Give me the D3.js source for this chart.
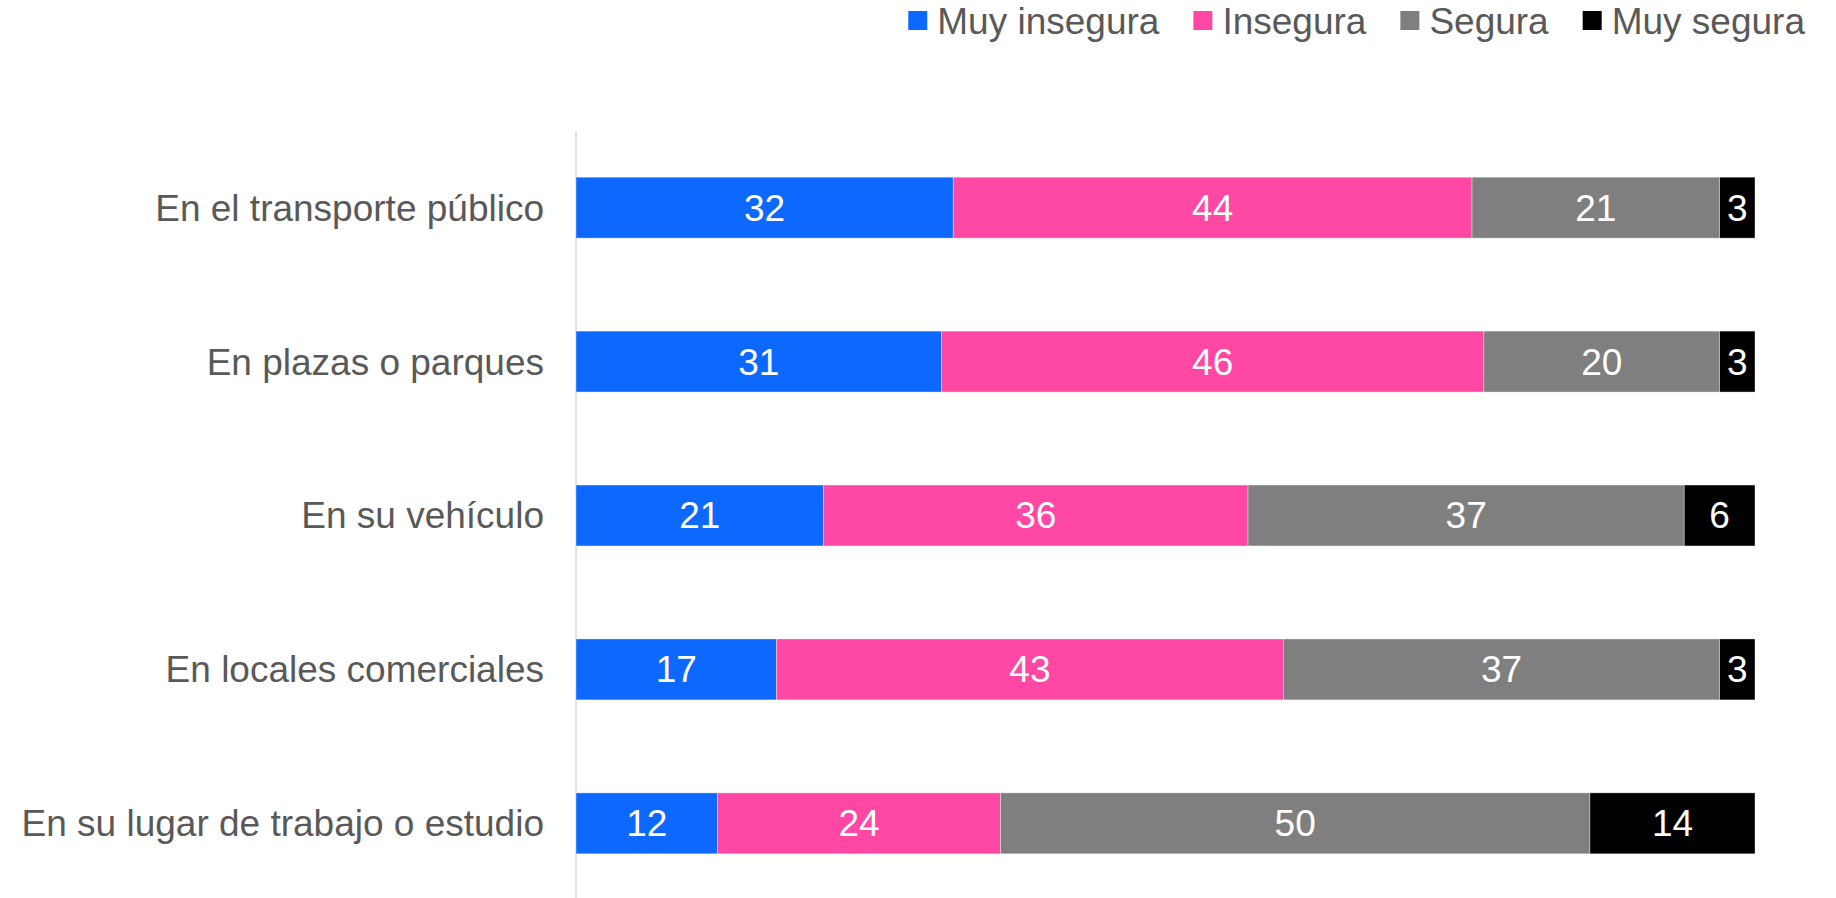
<!DOCTYPE html>
<html>
<head>
<meta charset="utf-8">
<script src="https://cdn.jsdelivr.net/npm/d3@7"></script>
<style>
  html, body { margin: 0; padding: 0; background: #fff; }
  svg { display: block; }
  text { font-family: "Liberation Sans", Arial, sans-serif; }
</style>
</head>
<body>
<svg id="chart" width="1836" height="898"></svg>
<script>
// Perceived safety by place (percent of respondents)
const categories = [
  "En el transporte público",
  "En plazas o parques",
  "En su vehículo",
  "En locales comerciales",
  "En su lugar de trabajo o estudio"
];
const seriesNames = ["Muy insegura", "Insegura", "Segura", "Muy segura"];
const muyInsegura = [32, 31, 21, 17, 12];
const insegura    = [44, 46, 36, 43, 24];
const segura      = [21, 20, 37, 37, 50];
const muySegura   = [3, 3, 6, 3, 14];
const seriesColors = ["#0D68FF", "#FF47A3", "#7F7F7F", "#000000"];

const rows = categories.map((c, i) => ({
  category: c,
  "Muy insegura": muyInsegura[i],
  "Insegura": insegura[i],
  "Segura": segura[i],
  "Muy segura": muySegura[i]
}));

const svg = d3.select("#chart");
const fontSize = 37;
const textColor = "#595959";

const x = d3.scaleLinear().domain([0, 100]).range([576, 1755]);
const y = d3.scaleBand()
  .domain(categories)
  .range([131, 900])
  .paddingInner(0.604)
  .paddingOuter(0.3);
const color = d3.scaleOrdinal().domain(seriesNames).range(seriesColors);

const stacked = d3.stack().keys(seriesNames)(rows);

// Vertical category axis line
svg.append("line")
  .attr("x1", x(0)).attr("x2", x(0))
  .attr("y1", 131).attr("y2", 898)
  .attr("stroke", "#D9D9D9")
  .attr("stroke-width", 1.5);

// Stacked segments
const layers = svg.append("g").selectAll("g")
  .data(stacked)
  .join("g")
  .attr("fill", d => color(d.key));

layers.selectAll("rect")
  .data(d => d.map(v => ({ key: d.key, v })))
  .join("rect")
  .attr("x", d => x(d.v[0]))
  .attr("y", d => y(d.v.data.category))
  .attr("width", d => x(d.v[1]) - x(d.v[0]))
  .attr("height", y.bandwidth())
  .attr("stroke", "#ffffff")
  .attr("stroke-opacity", 0.5)
  .attr("stroke-width", 0.75);

// Value labels inside the segments
layers.selectAll("text")
  .data(d => d.map(v => ({ key: d.key, v })))
  .join("text")
  .attr("x", d => (x(d.v[0]) + x(d.v[1])) / 2)
  .attr("y", d => y(d.v.data.category) + y.bandwidth() / 2)
  .attr("dy", "0.35em")
  .attr("text-anchor", "middle")
  .attr("fill", "#ffffff")
  .attr("font-size", fontSize)
  .text(d => d.v.data[d.key]);

// Category labels
svg.append("g").selectAll("text")
  .data(categories)
  .join("text")
  .attr("x", 544)
  .attr("y", d => y(d) + y.bandwidth() / 2)
  .attr("dy", "0.35em")
  .attr("text-anchor", "end")
  .attr("fill", textColor)
  .attr("font-size", fontSize)
  .text(d => d);

// Legend, right-aligned along the top
const legend = svg.append("g");
const sw = 19, textGap = 10, itemGap = 34;
let cursor = 0;
seriesNames.forEach(name => {
  const item = legend.append("g").attr("transform", `translate(${cursor},0)`);
  item.append("rect")
    .attr("x", 0).attr("y", 11)
    .attr("width", sw).attr("height", sw)
    .attr("fill", color(name));
  const t = item.append("text")
    .attr("x", sw + textGap)
    .attr("y", 21)
    .attr("dy", "0.35em")
    .attr("fill", textColor)
    .attr("font-size", fontSize)
    .text(name);
  cursor += sw + textGap + t.node().getComputedTextLength() + itemGap;
});
const legendWidth = cursor - itemGap;
legend.attr("transform", `translate(${1805 - legendWidth},0)`);
</script>
</body>
</html>
